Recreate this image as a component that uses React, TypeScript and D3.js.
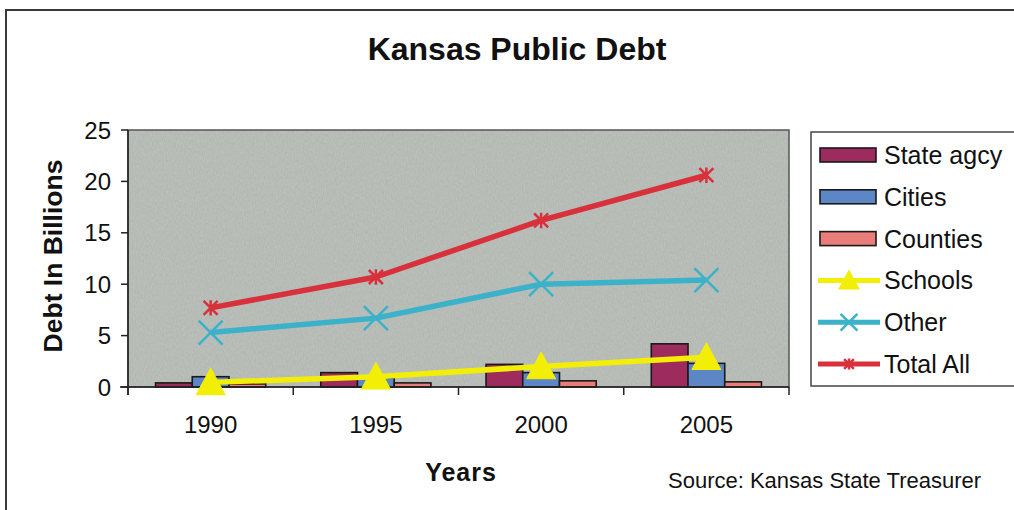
import React from "react";
import * as d3 from "d3";

const years = ["1990", "1995", "2000", "2005"];
const stateAgcy = [0.4, 1.4, 2.2, 4.2];
const cities = [1.0, 0.9, 1.4, 2.3];
const counties = [0.3, 0.4, 0.6, 0.5];
const schools = [0.45, 1.0, 2.0, 2.9];
const other = [5.3, 6.7, 10.0, 10.4];
const totalAll = [7.7, 10.7, 16.2, 20.6];
const yTicks = [0, 5, 10, 15, 20, 25];

const barSeries = [
  { name: "State agcy", values: stateAgcy, color: "#9e2b5e" },
  { name: "Cities", values: cities, color: "#5d86c6" },
  { name: "Counties", values: counties, color: "#e97d79" },
];
const lineSeries = [
  { name: "Schools", values: schools, color: "#f2ee05", marker: "triangle" },
  { name: "Other", values: other, color: "#3bb2c9", marker: "x" },
  { name: "Total All", values: totalAll, color: "#d8313b", marker: "star" },
];

const FONT = "Arial, 'Liberation Sans', Helvetica, sans-serif";

function Marker({ type, cx, cy, color, scale = 1 }: any) {
  if (type === "triangle") {
    const s = 14.5 * scale;
    return (
      <path
        d={`M${cx},${cy - s} L${cx + s},${cy + s * 0.85} L${cx - s},${cy + s * 0.85} Z`}
        fill={color}
        stroke={color}
        strokeWidth={1}
      />
    );
  }
  if (type === "x") {
    const s = 12 * scale;
    return (
      <path
        d={`M${cx - s},${cy - s} L${cx + s},${cy + s} M${cx - s},${cy + s} L${cx + s},${cy - s}`}
        stroke={color}
        strokeWidth={2.5}
        fill="none"
      />
    );
  }
  const s = 7 * scale;
  return (
    <path
      d={`M${cx - s},${cy - s} L${cx + s},${cy + s} M${cx - s},${cy + s} L${cx + s},${cy - s} M${cx},${cy - s * 1.1} L${cx},${cy + s * 1.1}`}
      stroke={color}
      strokeWidth={2.5}
      fill="none"
    />
  );
}

export default function App() {
  const W = 1014,
    H = 510;
  const left = 128,
    right = 789,
    top = 130,
    bottom = 387;

  const x = d3.scaleBand<string>().domain(years).range([left, right]).padding(0);
  const bw = x.bandwidth();
  const x1 = d3
    .scaleBand<string>()
    .domain(barSeries.map((s) => s.name))
    .range([0, bw])
    .paddingInner(0)
    .paddingOuter(0.75);
  const y = d3.scaleLinear().domain([0, 25]).range([bottom, top]);

  const line = d3
    .line<number>()
    .x((_, i) => (x(years[i]) as number) + bw / 2)
    .y((d) => y(d));

  const legendItems = [...barSeries.map((s) => ({ ...s, kind: "bar" })), ...lineSeries.map((s) => ({ ...s, kind: "line" }))];

  return (
    <svg
      width={W}
      height={H}
      style={{ position: "absolute", left: 0, top: 0, background: "#fff" }}
      fontFamily={FONT}
    >
      <defs>
        <filter id="grain" x="0" y="0" width="100%" height="100%">
          <feTurbulence type="fractalNoise" baseFrequency="0.9 0.35" numOctaves={2} seed={3} result="n" />
          <feColorMatrix
            in="n"
            type="matrix"
            values="0 0 0 0 0  0 0 0 0 0  0 0 0 0 0  0 0 0 0.18 0"
            result="a"
          />
          <feComposite in="a" in2="SourceGraphic" operator="in" result="b" />
          <feMerge>
            <feMergeNode in="SourceGraphic" />
            <feMergeNode in="b" />
          </feMerge>
        </filter>
      </defs>
      {/* outer frame */}
      <path d={`M6,${H} L6,10 L${W},10`} fill="none" stroke="#3a3a3a" strokeWidth={2} />

      {/* title */}
      <text x={517} y={60} textAnchor="middle" fontSize={32} fontWeight="bold" fill="#111">
        Kansas Public Debt
      </text>

      {/* plot background */}
      <rect x={left} y={top} width={right - left} height={bottom - top} fill="#bfc4bf" filter="url(#grain)" />
      <rect x={left} y={top} width={right - left} height={bottom - top} fill="none" stroke="#555" strokeWidth={1.5} />

      {/* bars */}
      {barSeries.map((s) =>
        s.values.map((v, i) => (
          <rect
            key={s.name + i}
            x={(x(years[i]) as number) + (x1(s.name) as number)}
            y={y(v)}
            width={x1.bandwidth()}
            height={bottom - y(v)}
            fill={s.color}
            stroke="#1a1a1a"
            strokeWidth={1.6}
          />
        ))
      )}

      {/* axes */}
      <line x1={left} x2={left} y1={top} y2={bottom + 8} stroke="#222" strokeWidth={1.5} />
      <line x1={left - 8} x2={right} y1={bottom} y2={bottom} stroke="#222" strokeWidth={1.5} />
      {yTicks.map((t) => (
        <g key={t}>
          <line x1={left - 7} x2={left} y1={y(t)} y2={y(t)} stroke="#222" strokeWidth={1.5} />
          <text x={111} y={y(t) + 8.5} textAnchor="end" fontSize={24} fill="#111">
            {t}
          </text>
        </g>
      ))}
      {[...years.map((yr) => x(yr) as number), right].map((px, i) => (
        <line key={i} x1={px} x2={px} y1={bottom} y2={bottom + 8} stroke="#222" strokeWidth={1.5} />
      ))}
      {years.map((yr) => (
        <text key={yr} x={(x(yr) as number) + bw / 2} y={433} textAnchor="middle" fontSize={24} fill="#111">
          {yr}
        </text>
      ))}

      {/* lines */}
      {lineSeries.map((s) => (
        <g key={s.name}>
          <path d={line(s.values) as string} fill="none" stroke={s.color} strokeWidth={5.5} strokeLinejoin="round" />
          {s.values.map((v, i) => (
            <Marker key={i} type={s.marker} cx={(x(years[i]) as number) + bw / 2} cy={y(v)} color={s.color} />
          ))}
        </g>
      ))}

      {/* axis titles */}
      <text
        transform={`translate(62,256) rotate(-90)`}
        textAnchor="middle"
        fontSize={26.5}
        fontWeight="bold"
        fill="#111"
      >
        Debt In Billions
      </text>
      <text x={461} y={481} textAnchor="middle" fontSize={25} fontWeight="bold" fill="#111" letterSpacing={1}>
        Years
      </text>
      <text x={668} y={488} fontSize={22} fill="#111">
        Source: Kansas State Treasurer
      </text>

      {/* legend */}
      <rect x={811} y={132} width={230} height={254} fill="#fff" stroke="#444" strokeWidth={1.5} />
      {legendItems.map((s: any, i) => {
        const cy = 155 + i * 41.8;
        return (
          <g key={s.name}>
            {s.kind === "bar" ? (
              <rect x={820} y={cy - 7} width={56} height={14} fill={s.color} stroke="#1a1a1a" strokeWidth={1.6} />
            ) : (
              <g>
                <line x1={818} x2={880} y1={cy} y2={cy} stroke={s.color} strokeWidth={5} />
                <Marker type={s.marker} cx={849} cy={cy} color={s.color} scale={0.7} />
              </g>
            )}
            <text x={884} y={cy + 9} fontSize={25} fill="#111">
              {s.name}
            </text>
          </g>
        );
      })}
    </svg>
  );
}
